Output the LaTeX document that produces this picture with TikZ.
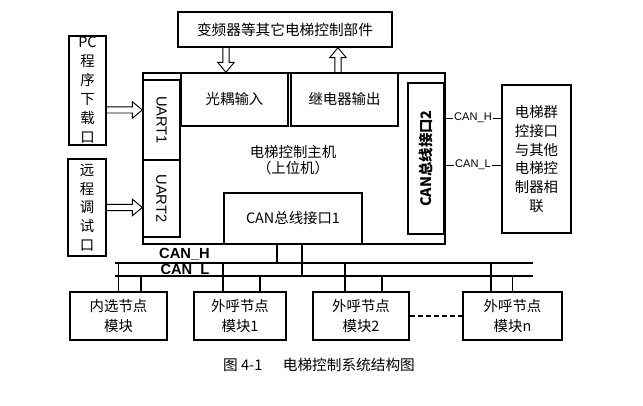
\documentclass[tikz,border=0pt]{standalone}
\usepackage{fontspec}
\setmainfont{Noto Sans CJK SC}
\newfontfamily\lat{Liberation Sans}
\usetikzlibrary{arrows.meta}
\usetikzlibrary{calc}
\usetikzlibrary{positioning}

\begin{document}
\begin{tikzpicture}[x=0.75pt, y=-0.75pt,
			every node/.style={font=\fontsize{10.8}{14}\selectfont},
			box/.style={draw, line width=1pt, inner sep=0pt, align=center},
			hollow/.style={line width=0.7pt, line join=miter, to path={
				($(\tikztostart)!2.3pt!90:(\tikztotarget)$)
				-- ($(\tikztotarget)!7.5pt!(\tikztostart)!2.3pt!-90:(\tikztostart)$)
				-- ($(\tikztotarget)!7.5pt!(\tikztostart)!6.2pt!-90:(\tikztostart)$)
				-- (\tikztotarget)
				-- ($(\tikztotarget)!7.5pt!(\tikztostart)!6.2pt!90:(\tikztostart)$)
				-- ($(\tikztotarget)!7.5pt!(\tikztostart)!2.3pt!90:(\tikztostart)$)
				-- ($(\tikztostart)!2.3pt!-90:(\tikztotarget)$)}},
			bus/.style={line width=1.1pt},
			tag/.style={font=\lat\fontsize{8.3}{10}\selectfont, fill=white, inner sep=1pt},
			bustag/.style={font=\lat\bfseries\fontsize{11}{12}\selectfont, inner sep=0pt}
		]
		\useasboundingbox (0,0) rectangle (643,406);

		\node[box, minimum width=160.5pt, minimum height=26.25pt, font=\fontsize{11}{14}\selectfont] (top) at (285,29.5) {变频器等其它电梯控制部件};

		% host and its parts
		\node[box, minimum width=226.5pt, minimum height=128.25pt] (main) at (294,158.5) {};
		\node[align=center, font=\fontsize{10.8}{12}\selectfont] (maintext) at (293,160) {电梯控制主机\\（上位机）};
		\node[box, minimum width=27.75pt, minimum height=60pt] (uart1) at (161.5,120) {\lat\fontsize{11}{12}\selectfont\rotatebox{-90}{UART1}};
		\node[box, minimum width=27.75pt, minimum height=57.75pt] (uart2) at (161.5,198.5) {\lat\fontsize{11}{12}\selectfont\rotatebox{-90}{UART2}};
		\node[box, minimum width=80.25pt, minimum height=39.75pt] (gy) at (234.5,99.5) {光耦输入};
		\node[box, minimum width=80.25pt, minimum height=39.75pt] (jd) at (344.5,99.5) {继电器输出};
		\node[box, minimum width=27pt, minimum height=113.25pt] (can2) at (426,158.5) {\bfseries\rotatebox{90}{CAN总线接口2}};
		\node[box, minimum width=103.5pt, minimum height=38.25pt] (can1) at (293,218.5) {CAN总线接口1};

		% side boxes
		\node[box, minimum width=27.75pt, minimum height=81.75pt, font=\fontsize{10.8}{14.25}\selectfont] (pc) at (87.5,90.5) {PC\\程\\序\\下\\载\\口};
		\node[box, minimum width=28.5pt, minimum height=72.75pt, font=\fontsize{10.8}{14}\selectfont] (rd) at (87,207.5) {远\\程\\调\\试\\口};
		\node[box, minimum width=51.75pt, minimum height=111pt, font=\fontsize{10.8}{14.1}\selectfont] (grp) at (536.5,159) {电梯群\\控接口\\与其他\\电梯控\\制器相\\联};

		% nodes on the bus
		\node[box, minimum width=72.75pt, minimum height=36pt, font=\fontsize{10.8}{15}\selectfont] (b0) at (118.5,316) {内选节点\\模块};
		\node[box, minimum width=69pt, minimum height=36pt, font=\fontsize{10.8}{15}\selectfont] (b1) at (240,316) {外呼节点\\模块1};
		\node[box, minimum width=72pt, minimum height=36pt, font=\fontsize{10.8}{15}\selectfont] (b2) at (361,316) {外呼节点\\模块2};
		\node[box, minimum width=74.25pt, minimum height=36pt, font=\fontsize{10.8}{15}\selectfont] (bn) at (512.5,316) {外呼节点\\模块n};

		\node[font=\fontsize{11}{12}\selectfont] (cap) at (319,365) {图 4-1\hspace{1.4em}电梯控制系统结构图};

		% hollow arrows
		\coordinate (gyin) at ([xshift=-6.4pt]gy.north);
		\coordinate (gysrc) at (gyin |- top.south);
		\draw[hollow] (gysrc) to (gyin);
		\coordinate (jdout) at ([xshift=-4.9pt]jd.north);
		\coordinate (jddst) at (jdout |- top.south);
		\draw[hollow] (jdout) to (jddst);
		\coordinate (pcout) at ([yshift=-14.6pt]pc.east);
		\coordinate (pcdst) at (pcout -| uart1.west);
		\draw[hollow] (pcout) to (pcdst);
		\coordinate (rddst) at (rd.east -| uart2.west);
		\draw[hollow] (rd.east) to (rddst);

		% CAN bus
		\coordinate (hl) at (115,263);
		\coordinate (hr) at (533,263);
		\coordinate (ll) at (115,276);
		\coordinate (lr) at (533,276);
		\draw[bus] (hl) -- (hr);
		\draw[bus] (ll) -- (lr);
		\node[bustag] (canh) at (184.5,254) {CAN\_H};
		\node[bustag] (canl) at (185,270) {CAN\_L};

		\draw[bus] ([xshift=-12pt]can1.south) coordinate (mh) -- (mh |- hl);
		\draw[bus] ([xshift=6.75pt]can1.south) coordinate (ml) -- (ml |- ll);
		\foreach \b/\h/\l in {b0/0/16.9, b1/-12.75/15, b2/-12/15.75, bn/-16.1/0} {
			\draw[bus] ([xshift=\h pt]\b.north) coordinate (th) -- (th |- hl);
			\draw[bus] ([xshift=\l pt]\b.north) coordinate (tl) -- (tl |- ll);
		}
		\draw[line width=1.4pt, dash pattern=on 4pt off 2pt] (b2.east) -- (bn.west);

		% link to the group controller
		\coordinate (c2h) at ([yshift=30.4pt]can2.east);
		\draw (c2h) -- node[tag] {CAN\_H} (c2h -| grp.west);
		\coordinate (c2l) at ([yshift=-4.9pt]can2.east);
		\draw (c2l) -- node[tag] {CAN\_L} (c2l -| grp.west);
	\end{tikzpicture}
\end{document}
